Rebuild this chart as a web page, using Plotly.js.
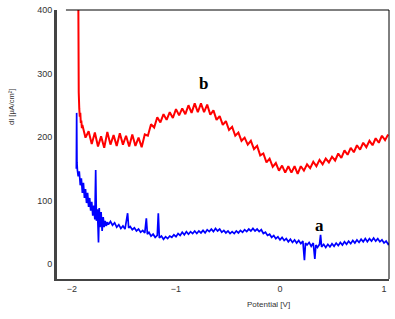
<!DOCTYPE html>
<html>
<head>
<meta charset="utf-8">
<script src="https://cdn.plot.ly/plotly-3.0.1.min.js"></script>
<style>
  html, body { margin: 0; padding: 0; background: #fff; }
  #plot { width: 395px; height: 319px; }
</style>
</head>
<body>
<div id="plot"></div>
<script>
// curve b (red), noise included
var potB = [-1.945, -1.942, -1.938, -1.935, -1.93, -1.925, -1.92, -1.915, -1.91, -1.905,
  -1.90, -1.87, -1.84, -1.81, -1.78, -1.75, -1.72, -1.69, -1.66, -1.63,
  -1.60, -1.57, -1.54, -1.51, -1.48, -1.45, -1.42, -1.39, -1.36, -1.33,
  -1.30, -1.27, -1.24, -1.21, -1.18, -1.15, -1.12, -1.09, -1.06, -1.03,
  -1.00, -0.97, -0.94, -0.91, -0.88, -0.85, -0.82, -0.79, -0.76, -0.73,
  -0.70, -0.67, -0.64, -0.61, -0.58, -0.55, -0.52, -0.49, -0.46, -0.43,
  -0.40, -0.37, -0.34, -0.31, -0.28, -0.25, -0.22, -0.19, -0.16, -0.13,
  -0.10, -0.07, -0.04, -0.01, 0.02, 0.05, 0.08, 0.11, 0.14, 0.17,
  0.20, 0.23, 0.26, 0.29, 0.32, 0.35, 0.38, 0.41, 0.44, 0.47,
  0.50, 0.53, 0.56, 0.59, 0.62, 0.65, 0.68, 0.71, 0.74, 0.77,
  0.80, 0.83, 0.86, 0.89, 0.92, 0.95, 0.98, 1.01, 1.04];
var currB = [640, 420, 330, 270, 245, 232, 238, 222, 226, 214,
  219, 199, 209, 189, 207, 185, 201, 183, 208, 188,
  203, 186, 206, 188, 202, 185, 204, 186, 199, 184,
  204, 202, 220, 215, 231, 223, 236, 227, 239, 230,
  244, 234, 245, 236, 250, 238, 253, 239, 253, 239,
  251, 235, 242, 227, 233, 219, 225, 211, 216, 202,
  207, 194, 199, 188, 194, 181, 186, 171, 174, 160,
  166, 153, 159, 147, 155, 144, 154, 144, 154, 142,
  154, 147, 157, 151, 161, 154, 164, 157, 166, 160,
  169, 163, 174, 167, 179, 172, 183, 176, 187, 180,
  191, 184, 194, 187, 198, 191, 202, 195, 204];

// curve a (blue)
var potA = [-1.958, -1.955, -1.952, -1.948, -1.94, -1.93, -1.92, -1.91, -1.90, -1.89,
  -1.88, -1.87, -1.86, -1.85, -1.84, -1.83, -1.82, -1.81, -1.80, -1.79,
  -1.78, -1.772, -1.765, -1.755, -1.745, -1.738, -1.73, -1.72, -1.71, -1.70,
  -1.69, -1.68, -1.67, -1.66, -1.65, -1.63, -1.61, -1.59, -1.57, -1.55,
  -1.53, -1.51, -1.49, -1.465, -1.455, -1.44, -1.42, -1.40, -1.38, -1.36,
  -1.34, -1.32, -1.30, -1.285, -1.275, -1.26, -1.24, -1.22, -1.20, -1.18,
  -1.17, -1.16, -1.14, -1.12, -1.10, -1.08, -1.06, -1.04, -1.02, -1.00,
  -0.98, -0.96, -0.94, -0.92, -0.90, -0.88, -0.86, -0.84, -0.82, -0.80,
  -0.78, -0.76, -0.74, -0.72, -0.70, -0.68, -0.66, -0.64, -0.62, -0.60,
  -0.58, -0.56, -0.54, -0.52, -0.50, -0.48, -0.46, -0.44, -0.42, -0.40,
  -0.38, -0.36, -0.34, -0.32, -0.30, -0.28, -0.26, -0.24, -0.22, -0.20,
  -0.18, -0.16, -0.14, -0.12, -0.10, -0.08, -0.06, -0.04, -0.02, 0.00,
  0.02, 0.04, 0.06, 0.08, 0.10, 0.12, 0.14, 0.16, 0.18, 0.20,
  0.22, 0.235, 0.245, 0.26, 0.28, 0.30, 0.32, 0.335, 0.345, 0.36,
  0.38, 0.39, 0.40, 0.42, 0.44, 0.46, 0.48, 0.50, 0.52, 0.54,
  0.56, 0.58, 0.60, 0.62, 0.64, 0.66, 0.68, 0.70, 0.72, 0.74,
  0.76, 0.78, 0.80, 0.82, 0.84, 0.86, 0.88, 0.90, 0.92, 0.94,
  0.96, 0.98, 1.00, 1.02, 1.04, 1.05];
var currA = [150, 238, 160, 148, 138, 146, 124, 135, 112, 128,
  104, 118, 96, 112, 90, 104, 84, 98, 76, 92,
  70, 148, 68, 86, 34, 88, 58, 82, 52, 74,
  58, 68, 60, 66, 62, 67, 61, 65, 58, 62,
  56, 60, 55, 80, 57, 59, 54, 57, 52, 55,
  50, 53, 49, 72, 47, 50, 44, 47, 42, 45,
  80, 41, 44, 39, 43, 40, 44, 42, 46, 43,
  48, 45, 50, 46, 51, 47, 51, 48, 52, 48,
  52, 49, 53, 49, 54, 51, 55, 51, 56, 52,
  55, 50, 53, 49, 52, 48, 51, 48, 52, 49,
  53, 50, 54, 51, 55, 52, 56, 52, 55, 51,
  54, 48, 50, 45, 47, 42, 45, 40, 43, 38,
  42, 37, 40, 35, 39, 34, 38, 33, 37, 32,
  36, 6, 33, 30, 34, 28, 33, 8, 30, 26,
  31, 46, 27, 31, 26, 31, 27, 32, 28, 33,
  29, 34, 30, 35, 31, 36, 32, 37, 33, 38,
  34, 39, 35, 40, 35, 40, 36, 41, 36, 40,
  35, 38, 33, 36, 31, 33];

var xTicks = [-2, -1, 0, 1];
var yTicks = [0, 100, 200, 300, 400];

var traceB = {
  x: potB, y: currB,
  mode: "lines", type: "scatter", name: "b",
  line: { color: "#ff0000", width: 2 }
};

var traceA = {
  x: potA, y: currA,
  mode: "lines", type: "scatter", name: "a",
  line: { color: "#0000ff", width: 1.7 }
};

var tickFont = { family: "Liberation Sans, Arial", size: 9, color: "#333" };

var layout = {
  width: 395,
  height: 319,
  margin: { l: 57, r: 6, t: 10, b: 40 },
  paper_bgcolor: "#fff",
  plot_bgcolor: "#fff",
  showlegend: false,
  xaxis: {
    range: [-2.144, 1.048],
    tickvals: xTicks,
    ticks: "",
    showgrid: false,
    zeroline: false,
    showline: true,
    linecolor: "#444",
    linewidth: 2,
    tickfont: tickFont
  },
  yaxis: {
    range: [-23.6, 400],
    tickvals: yTicks,
    ticks: "",
    showgrid: false,
    zeroline: false,
    showline: true,
    linecolor: "#444",
    linewidth: 3,
    tickfont: tickFont
  },
  shapes: [
    { type: "line", xref: "paper", yref: "paper", x0: 0.027, x1: 1, y0: 1, y1: 1,
      line: { color: "#000", width: 1 } },
    { type: "line", xref: "paper", yref: "paper", x0: 1, x1: 1, y0: 0, y1: 1,
      line: { color: "#000", width: 1 } }
  ],
  annotations: [
    { text: "dI [µA/cm²]", xref: "paper", yref: "paper", x: -0.155, y: 0.714,
      textangle: -90, showarrow: false,
      font: { family: "Liberation Sans, Arial", size: 7.5, color: "#333" } },
    { text: "Potential [V]", xref: "paper", yref: "paper", x: 0.636, y: -0.119,
      showarrow: false,
      font: { family: "Liberation Sans, Arial", size: 8, color: "#333" } },
    { text: "<b>b</b>", x: -0.74, y: 285, showarrow: false,
      font: { family: "Liberation Serif, Times New Roman", size: 17, color: "#000" } },
    { text: "<b>a</b>", x: 0.375, y: 61, showarrow: false,
      font: { family: "Liberation Serif, Times New Roman", size: 17, color: "#000" } }
  ]
};

Plotly.newPlot("plot", [traceB, traceA], layout, { displayModeBar: false, staticPlot: true });
</script>
</body>
</html>
